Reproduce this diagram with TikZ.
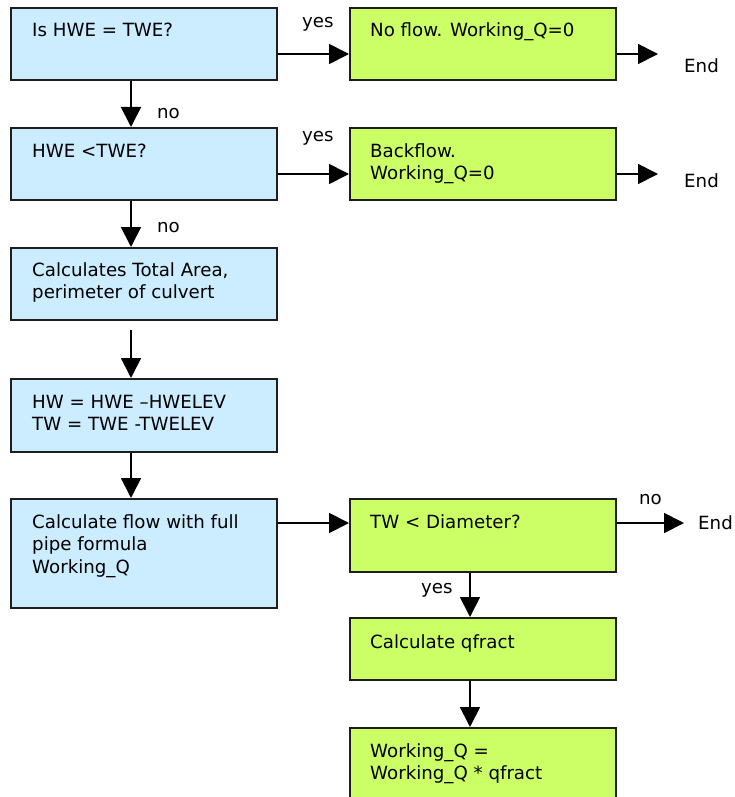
\documentclass[tikz,border=0pt]{standalone}
\usepackage{fontspec}
\setmainfont{DejaVu Sans}
\usetikzlibrary{arrows.meta,calc}
\definecolor{stepblue}{RGB}{204,236,255}
\definecolor{stepgreen}{RGB}{204,255,102}
\definecolor{edge}{RGB}{30,30,30}
% lines stacked so that the baseline of the first line is the reference point
\newcommand{\boxlines}[1]{\vtop{\halign{##\hfil\cr#1\crcr}}}
\begin{document}
\begin{tikzpicture}[x=1pt,y=-1pt,
  every node/.style={font=\fontsize{18.2}{22.5}\selectfont},
  box/.style={draw=edge,line width=2pt,anchor=north west,inner sep=0pt,
    minimum width=266pt},
  bluebox/.style={box,fill=stepblue},
  greenbox/.style={box,fill=stepgreen},
  txt/.style={anchor=base west,inner sep=0pt},
  lbl/.style={anchor=base west,inner sep=0pt},
  arr/.style={line width=1.8pt,-{Triangle[length=20pt,width=20pt]}},
]
\useasboundingbox (0,0) rectangle (735,797);

% left column: checks and full-pipe flow
\node[bluebox,minimum height=72pt] (b1) at (10,7) {};
\node[bluebox,minimum height=72pt] (b2) at (10,127) {};
\node[bluebox,minimum height=72pt] (b3) at (10,247) {};
\node[bluebox,minimum height=73pt] (b4) at (10,378) {};
\node[bluebox,minimum height=109pt] (b5) at (10,498) {};

% right column: outcomes and partial-flow correction
\node[greenbox,minimum height=72pt] (g1) at (349,7) {};
\node[greenbox,minimum height=72pt] (g2) at (349,127) {};
\node[greenbox,minimum height=73pt] (g3) at (349,498) {};
\node[greenbox,minimum height=62pt] (g4) at (349,617) {};
\node[greenbox,minimum height=90pt] (g5) at (349,727) {};

% box texts
\node[txt] (t1) at (32,37) {Is HWE = TWE?};
\node[txt] (t2) at (32,157) {HWE <TWE?};
\node[txt] (t3) at (32,276) {\boxlines{Calculates Total Area,\cr perimeter of culvert}};
\node[txt] (t4) at (32,408) {\boxlines{HW = HWE –HWELEV\cr TW = TWE -TWELEV}};
\node[txt] (t5) at (32,528) {\boxlines{Calculate flow with full\cr pipe formula\cr Working\_Q}};
\node[txt] (s1) at (370,37) {No flow. Working\_Q=0};
\node[txt] (s2) at (370,157) {\boxlines{Backflow.\cr Working\_Q=0}};
\node[txt] (s3) at (370,528) {TW < Diameter?};
\node[txt] (s4) at (370,648) {Calculate qfract};
\node[txt] (s5) at (370,757) {\boxlines{Working\_Q =\cr Working\_Q * qfract}};

% end points of the flow
\coordinate (e1) at (658,54);
\coordinate (e2) at (658,174);
\coordinate (e3) at (684,523);
\node[lbl] (end1) at (684,73) {End};
\node[lbl] (end2) at (684,187) {End};
\node[lbl] (end3) at (698,529) {End};

% horizontal connectors
\draw[arr] (b1.east |- e1) -- (g1.west |- e1);
\draw[arr] (g1.east |- e1) -- (e1);
\draw[arr] (b2.east |- e2) -- (g2.west |- e2);
\draw[arr] (g2.east |- e2) -- (e2);
\draw[arr] (b5.east |- e3) -- (g3.west |- e3);
\draw[arr] (g3.east |- e3) -- (e3);

% vertical connectors
\coordinate (cx) at (131,0);
\coordinate (gx) at (470,0);
\coordinate (gap) at (131,330);
\draw[arr] (cx |- b1.south) -- (cx |- b2.north);
\draw[arr] (cx |- b2.south) -- (cx |- b3.north);
\draw[arr] (gap) -- (cx |- b4.north);
\draw[arr] (cx |- b4.south) -- (cx |- b5.north);
\draw[arr] (gx |- g3.south) -- (gx |- g4.north);
\draw[arr] (gx |- g4.south) -- (gx |- g5.north);

% branch labels
\node[lbl] (y1) at (302,28) {yes};
\node[lbl] (y2) at (302,142) {yes};
\node[lbl] (n1) at (157,118) {no};
\node[lbl] (n2) at (157,232) {no};
\node[lbl] (n3) at (639,504) {no};
\node[lbl] (y3) at (421,593) {yes};
\end{tikzpicture}
\end{document}
